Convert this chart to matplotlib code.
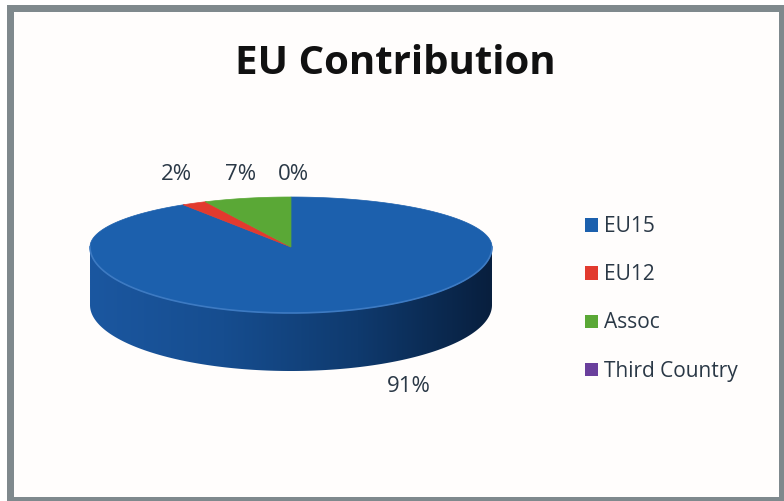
import numpy as np
import matplotlib.pyplot as plt
from matplotlib.patches import Polygon, Rectangle, Patch
from matplotlib.colors import LinearSegmentedColormap

plt.rcParams['font.family'] = ['Open Sans', 'DejaVu Sans']

# data
labels = ['EU15', 'EU12', 'Assoc', 'Third Country']
values = [91, 2, 7, 0]
colors = ['#1c60ad', '#e23a2e', '#5aa836', '#6a3f9c']
title = 'EU Contribution'

fig = plt.figure(figsize=(7.84, 5.01), dpi=100)
ax = fig.add_axes([0, 0, 1, 1])
ax.set_xlim(0, 784)
ax.set_ylim(501, 0)
ax.axis('off')

# frame
ax.add_patch(Rectangle((7, 5), 777, 496, facecolor='#7f898d', edgecolor='none', zorder=0))
ax.add_patch(Rectangle((14, 12), 765, 485, facecolor='#fffdfc', edgecolor='none', zorder=0))

# pie geometry (pixels)
cx, cy = 291, 247
a = 201
b_back, b_front = 50, 66
depth = 58


def pt(theta, scale=1.0, dy=0.0):
    b = b_back if np.sin(theta) > 0 else b_front
    return cx + scale * a * np.cos(theta), cy - scale * b * np.sin(theta) + dy


fracs = np.array(values, dtype=float) / sum(values)
starts = np.deg2rad(90) - 2 * np.pi * np.concatenate([[0], np.cumsum(fracs)[:-1]])
ends = starts - 2 * np.pi * fracs

# side of the pie (front half) - the front is all EU15, shaded left to right
th = np.linspace(np.pi, 2 * np.pi, 300)
top_edge = [pt(t) for t in th]
bot_edge = [(x, y + depth) for x, y in top_edge[::-1]]
side = Polygon(top_edge + bot_edge, closed=True, facecolor='none', edgecolor='none', zorder=2)
ax.add_patch(side)
side_cmap = LinearSegmentedColormap.from_list('side', ['#1b57a0', '#164d8f', '#0f3a6e', '#081f3e'])
grad = np.linspace(0, 1, 256).reshape(1, -1)
im = ax.imshow(grad, cmap=side_cmap, extent=(cx - a, cx + a, cy + b_front + depth, cy), aspect='auto',
               zorder=2, interpolation='bilinear')
im.set_clip_path(side)
ax.set_xlim(0, 784)
ax.set_ylim(501, 0)

# top face
for s, e, c in zip(starts, ends, colors):
    if s == e:
        continue
    tt = np.linspace(s, e, 300)
    poly = [(cx, cy)] + [pt(t) for t in tt]
    ax.add_patch(Polygon(poly, closed=True, facecolor=c, edgecolor=c, lw=0.5, zorder=3))

# light rim on front edge
rim = np.array(top_edge)
ax.plot(rim[:, 0], rim[:, 1], color='#3d7ac2', lw=1.2, zorder=4)

# percentage labels
label_color = '#2a3846'
for s, e, v in zip(starts, ends, values):
    mid = 0.5 * (s + e)
    if v >= 50:
        x = cx + 2.1 * a * np.cos(mid)
        y = cy + b_front + depth + 16
    else:
        x = cx + 1.2 * a * np.cos(mid) + 2
        y = cy - b_back - 22
    ax.text(x, y, f'{v}%', fontsize=16, color=label_color, ha='center', va='center', zorder=5)

ax.text(395, 63, title, fontsize=29, fontweight='bold', color='#111111',
        ha='center', va='center', zorder=5)

handles = [Patch(facecolor=c, edgecolor='none') for c in colors]
leg = ax.legend(handles, labels, loc='upper left', bbox_to_anchor=(577 / 784, 1 - 208 / 501),
                frameon=False, fontsize=15, labelspacing=1.3, handlelength=0.6,
                handleheight=0.6, handletextpad=0.3, borderaxespad=0)
for t in leg.get_texts():
    t.set_color(label_color)

fig.savefig('out.png', dpi=100)
